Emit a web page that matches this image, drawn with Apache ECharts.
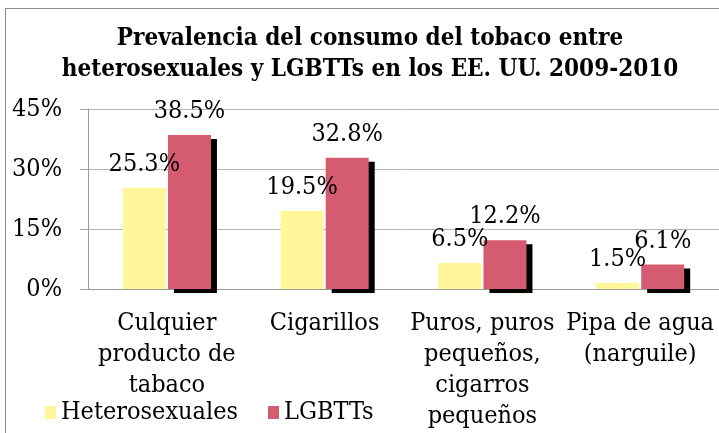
<!DOCTYPE html>
<html>
<head>
<meta charset="utf-8">
<script src="https://cdn.jsdelivr.net/npm/echarts@6/dist/echarts.min.js"></script>
<style>
  html, body { margin: 0; padding: 0; background: #fff; }
  #wrap { position: relative; width: 719px; height: 433px; overflow: hidden; }
  #frame { position: absolute; left: 5px; top: 8px; width: 730px; height: 440px;
           border-left: 1px solid #8c8c8c; border-top: 1px solid #8c8c8c; }
  #chart { position: absolute; left: 0; top: 0; width: 719px; height: 433px; }
</style>
</head>
<body>
<div id="wrap">
  <div id="frame"></div>
  <div id="chart"></div>
</div>
<script>
const FONT = '"DejaVu Serif Condensed", "Liberation Serif", serif';

const titleText = 'Prevalencia del consumo del tobaco entre\nheterosexuales y LGBTTs en los EE. UU. 2009-2010';
const categories = [
  'Culquier\nproducto de\ntabaco',
  'Cigarillos',
  'Puros, puros\npequeños,\ncigarros\npequeños',
  'Pipa de agua\n(narguile)',
];
const seriesNames = ['Heterosexuales', 'LGBTTs'];
const hetero = [25.3, 19.5, 6.5, 1.5];
const lgbtt = [38.5, 32.8, 12.2, 6.1];

const myChart = echarts.init(document.getElementById('chart'), null, { renderer: 'canvas' });
const label = {
  show: true,
  position: 'top',
  distance: 11,
  fontFamily: FONT,
  fontSize: 25,
  color: '#000',
  formatter: p => p.value.toFixed(1) + '%',
};
const option = {
  animation: false,
  title: {
    text: titleText,
    left: 365,
    top: 18,
    textAlign: 'center',
    textStyle: {
      fontFamily: FONT,
      fontWeight: 'bold',
      fontSize: 24,
      lineHeight: 31,
      color: '#000',
    },
  },
  legend: {
    left: 40,
    top: 395,
    icon: 'rect',
    itemWidth: 11,
    itemHeight: 13,
    itemGap: 30,
    data: seriesNames,
    textStyle: { fontFamily: FONT, fontSize: 25, color: '#000' },
  },
  grid: {
    left: 88,
    right: -3,
    top: 109,
    bottom: 144,
  },
  xAxis: {
    type: 'category',
    data: categories,
    axisLine: { lineStyle: { color: '#9a9a9a' } },
    axisTick: { length: 7, lineStyle: { color: '#9a9a9a' } },
    axisLabel: {
      interval: 0,
      margin: 19,
      fontFamily: FONT,
      fontSize: 25,
      lineHeight: 31,
      color: '#000',
    },
  },
  yAxis: {
    type: 'value',
    min: 0,
    max: 45,
    interval: 15,
    axisLine: { show: true, lineStyle: { color: '#9a9a9a' } },
    axisTick: { show: true, length: 8, lineStyle: { color: '#a6a6a6' } },
    splitLine: { lineStyle: { color: '#b4b4b4' } },
    axisLabel: {
      margin: 26,
      fontFamily: FONT,
      fontSize: 25,
      color: '#000',
      formatter: v => v + '%',
    },
  },
  series: [
    {
      name: seriesNames[0],
      type: 'bar',
      data: hetero,
      barWidth: 43,
      barGap: '5%',
      itemStyle: { color: '#fff799' },
      label: label,
    },
    {
      name: seriesNames[1],
      type: 'bar',
      data: lgbtt,
      barWidth: 43,
      itemStyle: {
        color: '#d55b70',
        shadowColor: '#000',
        shadowBlur: 0,
        shadowOffsetX: 6,
        shadowOffsetY: 4,
      },
      label: label,
    },
  ],
};
myChart.setOption(option);
</script>
</body>
</html>
